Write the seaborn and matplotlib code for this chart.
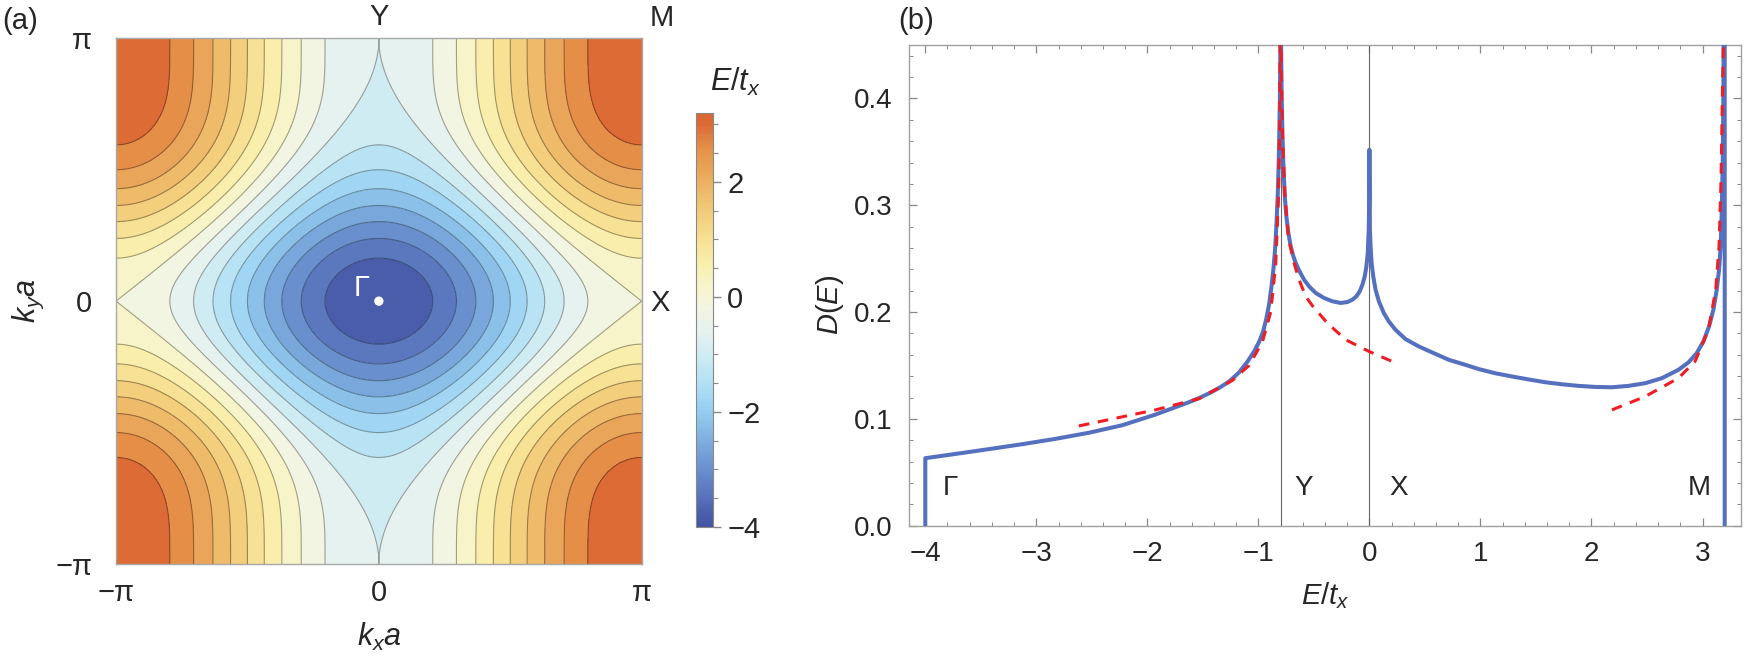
import numpy as np
import matplotlib
matplotlib.use('Agg')
import matplotlib.pyplot as plt
from matplotlib.colors import LinearSegmentedColormap, Normalize
from matplotlib.ticker import MultipleLocator, FormatStrFormatter
import seaborn as sns

# ---- band model, hoppings read from the energies at Γ, X, Y, M (-4, 0, -0.8, 3.2)
t_x = 1.0
t_y = 0.8
t_y2 = 0.2
contour_levels = [-4.0, -3.6, -3.2, -2.8, -2.4, -2.0, -1.6, -1.2, -0.8, -0.4,
                  0.0, 0.4, 0.8, 1.2, 1.6, 2.0, 2.4, 2.8, 3.2]

# ---- density of states
dos_E = [-4.0, -4.0, -3.727, -3.427, -3.127, -2.827, -2.527, -2.228, -1.928, -1.628,
         -1.533, -1.443, -1.353, -1.263, -1.174, -1.099, -1.039, -0.994, -0.958, -0.928,
         -0.904, -0.883, -0.865, -0.850, -0.838, -0.826, -0.817, -0.811, -0.806, -0.803,
         -0.801, -0.799,
         -0.790, -0.784, -0.778, -0.769, -0.760, -0.748, -0.730, -0.709, -0.685, -0.664,
         -0.634, -0.589, -0.544, -0.484, -0.409, -0.334, -0.258, -0.198, -0.153, -0.117,
         -0.087, -0.063, -0.042, -0.027, -0.015, -0.006, -0.0015, 0.0,
         0.0045, 0.0105, 0.0195, 0.0345, 0.0555, 0.0854, 0.130, 0.175, 0.235, 0.325,
         0.445, 0.565, 0.715, 0.865, 0.985, 1.134, 1.284, 1.434, 1.584, 1.734,
         1.884, 2.034, 2.184, 2.334, 2.484, 2.634, 2.783, 2.873, 2.948, 3.008,
         3.059, 3.098, 3.128, 3.149, 3.164, 3.173, 3.182, 3.188, 3.191, 3.2, 3.2]
dos_D = [0.0, 0.0632, 0.0672, 0.0717, 0.0763, 0.0813, 0.0870, 0.0940, 0.1040, 0.1155,
         0.1195, 0.1240, 0.1290, 0.1350, 0.1435, 0.1535, 0.1630, 0.1720, 0.1815, 0.1940,
         0.2070, 0.2230, 0.2397, 0.2584, 0.2803, 0.3084, 0.3396, 0.3709, 0.4021, 0.433,
         0.48, 0.48,
         0.4021, 0.3709, 0.3459, 0.324, 0.3052, 0.2896, 0.2740, 0.2616, 0.2522, 0.246,
         0.2391, 0.2304, 0.2241, 0.2179, 0.2132, 0.2101, 0.2085, 0.2094, 0.2116, 0.2147,
         0.2194, 0.2256, 0.2334, 0.2428, 0.2553, 0.2772, 0.3084, 0.352,
         0.2772, 0.2616, 0.2460, 0.2334, 0.2209, 0.2100, 0.1990, 0.1912, 0.1834, 0.1747,
         0.1678, 0.1622, 0.1553, 0.1506, 0.1466, 0.1427, 0.1397, 0.1369, 0.1343, 0.1324,
         0.1309, 0.1299, 0.1296, 0.1309, 0.1334, 0.1381, 0.1459, 0.1528, 0.1615, 0.1725,
         0.1865, 0.2022, 0.2209, 0.2396, 0.2616, 0.2928, 0.3396, 0.4021, 0.48, 0.48, 0.0]

# asymptotic forms near the van Hove points (red dashed)
asym_left_E = [-2.617, -1.928, -1.533, -1.234, -1.084, -0.964, -0.889, -0.844, -0.820, -0.808, -0.802]
asym_left_D = [0.0934, 0.1084, 0.1190, 0.136, 0.150, 0.172, 0.200, 0.245, 0.305, 0.370, 0.48]
asym_mid_E = [-0.799, -0.792, -0.781, -0.762, -0.730, -0.679, -0.634, -0.574, -0.514, -0.379, -0.214, -0.003, 0.207]
asym_mid_D = [0.48, 0.41, 0.36, 0.31, 0.27, 0.246, 0.2304, 0.2147, 0.2060, 0.1897, 0.1741, 0.1631, 0.1537]
asym_right_E = [2.184, 2.483, 2.783, 2.933, 3.053, 3.119, 3.149, 3.167, 3.179, 3.188, 3.193]
asym_right_D = [0.1084, 0.1209, 0.1381, 0.1538, 0.1834, 0.2209, 0.2616, 0.3240, 0.402, 0.45, 0.48]

# high-symmetry points
sym_labels = ['Γ', 'Y', 'X', 'M']
sym_E = [-4.0, -0.8, 0.0, 3.2]

# colour map stops (value, colour)
cmap_vals = [-4.0, -3.8, -3.4, -3.0, -2.6, -2.2, -1.8, -1.4, -1.0, -0.6, -0.2,
             0.2, 0.6, 1.0, 1.4, 1.8, 2.2, 2.6, 3.0, 3.2]
cmap_cols = ['#4455a5', '#4a5dab', '#5b78bf', '#6a90cd', '#7aa8dc', '#8cc2ea', '#a0d6f3',
             '#b8e3f4', '#d0ecf3', '#e6f2ef', '#f1f5e2', '#f8f4cb', '#f9eeac', '#f6e194',
             '#f2cf7e', '#eebc6c', '#e9a659', '#e48f48', '#dd6b36', '#db6632']

sns.set_style('ticks')
plt.rcParams['font.family'] = ['Liberation Sans', 'DejaVu Sans']
plt.rcParams['mathtext.fontset'] = 'custom'
plt.rcParams['mathtext.it'] = 'Liberation Sans:italic'
plt.rcParams['mathtext.rm'] = 'Liberation Sans'

W, H = 1746, 672
fig = plt.figure(figsize=(W / 100, H / 100), dpi=100)


def rect(l, t, r, b):
    return [l / W, 1 - b / H, (r - l) / W, (b - t) / H]


ax_a = fig.add_axes(rect(116, 38.3, 641.7, 564))
cax = fig.add_axes(rect(696, 112.7, 713.3, 527))
ax_b = fig.add_axes(rect(909.3, 45, 1740.7, 525.7))

cmap = LinearSegmentedColormap.from_list(
    'band', [((v + 4) / 7.2, c) for v, c in zip(cmap_vals, cmap_cols)])
norm = Normalize(-4, 3.2)

# ---- (a) band contour
k = np.linspace(-np.pi, np.pi, 601)
KX, KY = np.meshgrid(k, k)
band = -2 * t_x * np.cos(KX) - 2 * t_y * np.cos(KY) - 2 * t_y2 * np.cos(2 * KY)

ax_a.contourf(KX, KY, band, levels=contour_levels, cmap=cmap, norm=norm, extend='both')
ax_a.contour(KX, KY, band, levels=contour_levels[1:-1], colors='k',
             linewidths=0.8, alpha=0.35, linestyles='solid')
sns.scatterplot(x=[0], y=[0], color='white', s=45, edgecolor='none', ax=ax_a, zorder=5)
ax_a.annotate('Γ', xy=(0, 0), xytext=(-17, 13), textcoords='offset pixels',
              color='white', fontsize=21, ha='center', va='center')
ax_a.set_xlim(-np.pi, np.pi)
ax_a.set_ylim(-np.pi, np.pi)
ax_a.set_xticks([-np.pi, 0, np.pi], ['−π', '0', 'π'])
ax_a.set_yticks([-np.pi, 0, np.pi], ['−π', '0', 'π'])
ax_a.tick_params(axis='x', length=0, labelsize=21, pad=11)
ax_a.tick_params(axis='y', length=0, labelsize=21, pad=17)
for s in ax_a.spines.values():
    s.set_color('#a8a8a8')
    s.set_linewidth(1.0)
ax_a.set_xlabel('$k_x a$', fontsize=22)
ax_a.set_ylabel('$k_y a$', fontsize=22)
ax_a.xaxis.set_label_coords(0.5, -(637 - 564) / 525.7)
ax_a.yaxis.set_label_coords((28 - 116) / 525.7, 0.5)
for lab in (ax_a.xaxis.label, ax_a.yaxis.label):
    lab.set_va('center')
    lab.set_ha('center')

ax_a.annotate('Y', xy=(0, np.pi), xytext=(0, 15.3), textcoords='offset points',
              fontsize=21, ha='center', va='center', annotation_clip=False)
ax_a.annotate('M', xy=(np.pi, np.pi), xytext=(14.4, 14.6), textcoords='offset points',
              fontsize=21, ha='center', va='center', annotation_clip=False)
ax_a.annotate('X', xy=(np.pi, 0), xytext=(13, -1.5), textcoords='offset points',
              fontsize=21, ha='center', va='center', annotation_clip=False)

sm = plt.cm.ScalarMappable(norm=norm, cmap=cmap)
cb = fig.colorbar(sm, cax=cax)
cb.set_ticks([-4, -2, 0, 2])
cb.ax.yaxis.set_minor_locator(MultipleLocator(0.5))
cax.tick_params(which='major', length=6, width=1, color='#888888', labelsize=21, pad=4)
cax.tick_params(which='minor', length=3.5, width=0.8, color='#888888')
cb.outline.set_edgecolor('#888888')
cb.outline.set_linewidth(0.8)
fig.text(735 / W, 1 - 82 / H, '$E/t_x$', fontsize=22, ha='center', va='center')

fig.text(2 / W, 1 - 21 / H, '(a)', fontsize=21, ha='left', va='center')
fig.text(898 / W, 1 - 21 / H, '(b)', fontsize=21, ha='left', va='center')

# ---- (b) density of states
blue = '#5470bf'
red = '#f01e23'
for e in sym_E[1:3]:
    ax_b.axvline(e, color='#666666', lw=0.8, zorder=1)
sns.lineplot(x=dos_E, y=dos_D, sort=False, estimator=None, color=blue, lw=2.9,
             ax=ax_b, zorder=3)
for xe, yd in [(asym_left_E, asym_left_D), (asym_mid_E, asym_mid_D),
               (asym_right_E, asym_right_D)]:
    sns.lineplot(x=xe, y=yd, sort=False, estimator=None, color=red, lw=2.2,
                 linestyle=(0, (3.5, 2.8)), ax=ax_b, zorder=4)

label_E = [-3.77, -0.59, 0.26, 2.97]
for lab, e in zip(sym_labels, label_E):
    ax_b.text(e, 0.035, lab, fontsize=20, ha='center', va='center')

ax_b.set_xlim(-4.144, 3.344)
ax_b.set_ylim(0, 0.45)
ax_b.xaxis.set_major_locator(MultipleLocator(1))
ax_b.xaxis.set_minor_locator(MultipleLocator(0.2))
ax_b.yaxis.set_major_locator(MultipleLocator(0.1))
ax_b.yaxis.set_minor_locator(MultipleLocator(0.02))
ax_b.yaxis.set_major_formatter(FormatStrFormatter('%.1f'))
ax_b.tick_params(which='both', direction='in', top=True, right=True, color='#888888')
ax_b.tick_params(which='major', length=5.5, width=0.9, labelsize=20)
ax_b.tick_params(axis='x', which='major', pad=11)
ax_b.tick_params(axis='y', which='major', pad=12)
ax_b.tick_params(which='minor', length=3, width=0.7)
for s in ax_b.spines.values():
    s.set_color('#a0a0a0')
    s.set_linewidth(1.0)
ax_b.set_xlabel('$E/t_x$', fontsize=21)
ax_b.set_ylabel('$D(E)$', fontsize=21)
ax_b.xaxis.set_label_coords(0.5, -(596 - 525.7) / 480.7)
ax_b.yaxis.set_label_coords((830 - 909.3) / 831.4, (525.7 - 305) / 480.7)
for lab in (ax_b.xaxis.label, ax_b.yaxis.label):
    lab.set_va('center')
    lab.set_ha('center')

fig.savefig('out.png', dpi=100)
